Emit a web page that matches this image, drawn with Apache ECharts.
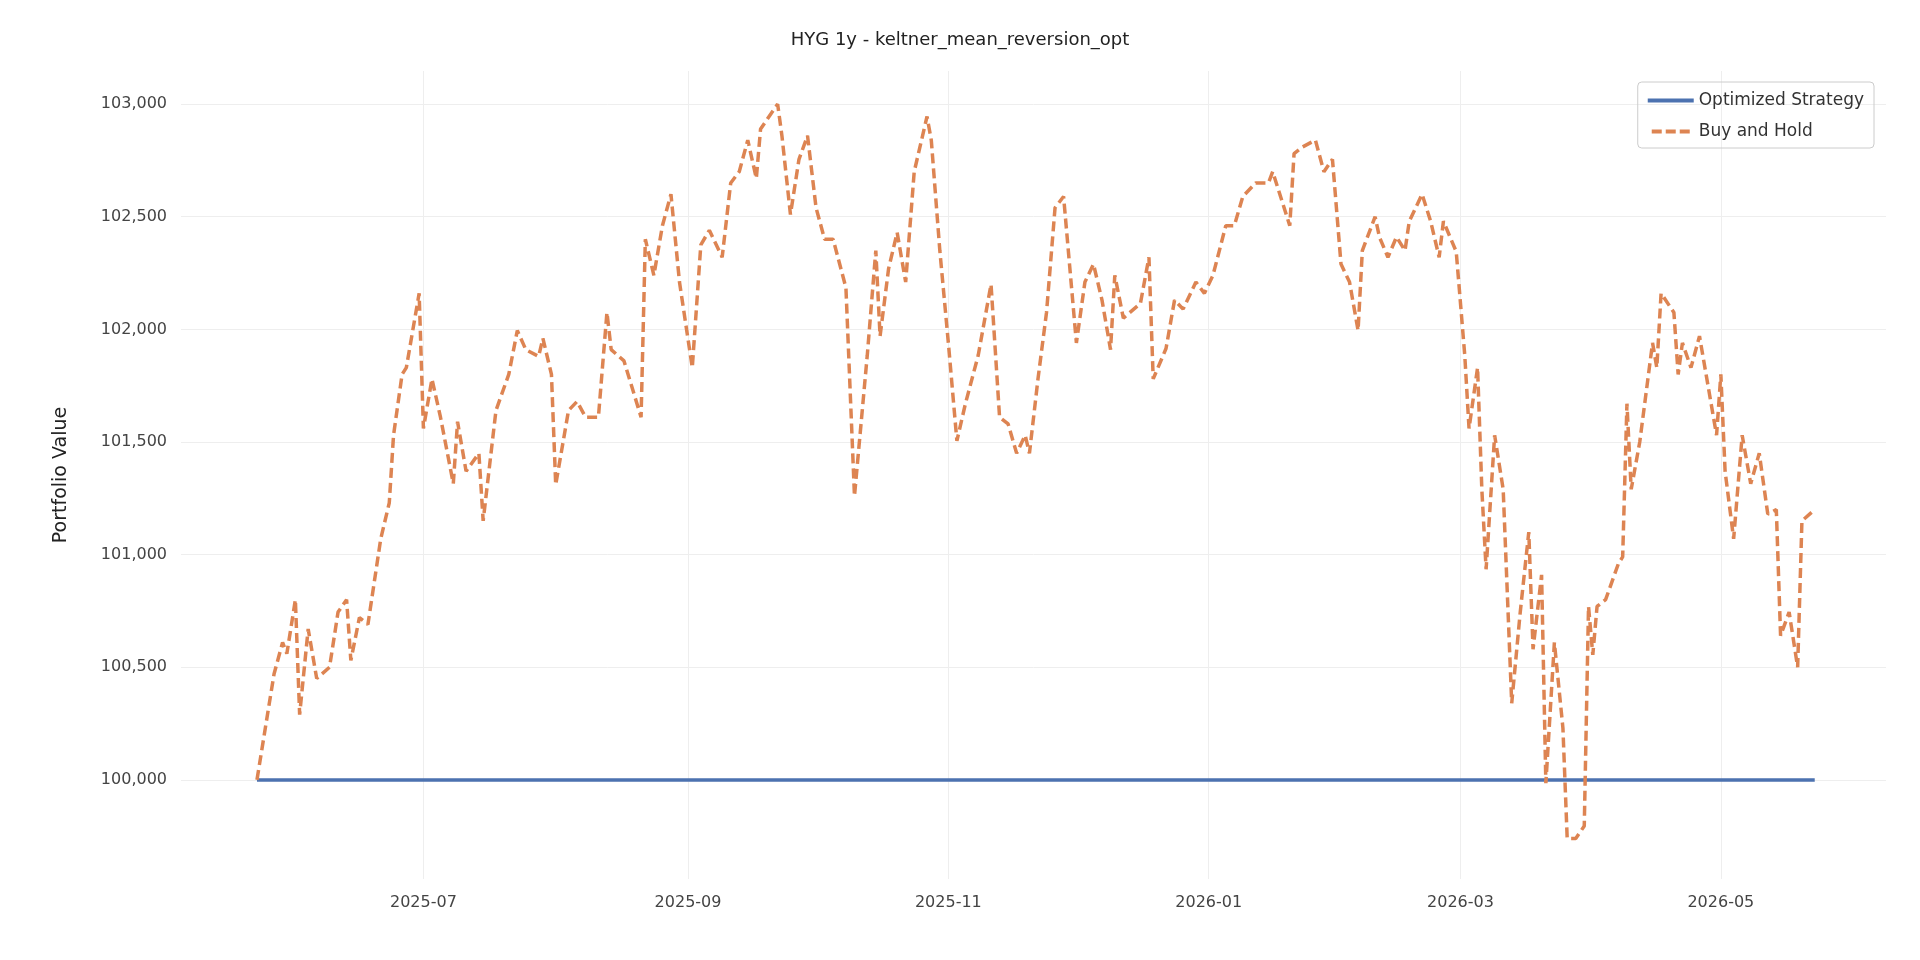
<!DOCTYPE html>
<html><head><meta charset="utf-8">
<script src="https://cdn.jsdelivr.net/npm/echarts@6/dist/echarts.min.js"></script>
<style>html,body{margin:0;padding:0;background:#fff}#c{width:1920px;height:960px}</style>
</head><body><div id="c"></div>
<script>
const startDate = '2025-05-23';
const dayOffsets = [0,4,6,7,9,10,12,14,17,19,21,22,24,26,29,31,32,34,35,38,39,41,43,46,47,49,52,53,56,59,61,63,66,67,69,70,73,75,77,80,82,83,86,90,91,93,95,97,99,102,104,106,109,111,113,115,117,118,122,123,125,127,129,131,133,135,138,140,143,145,146,148,150,152,154,157,158,160,162,164,166,169,172,174,176,178,180,181,183,185,187,189,192,194,196,198,200,201,203,207,209,210,213,215,217,220,222,224,227,229,231,234,237,238,242,243,245,248,250,252,254,256,258,259,262,263,265,267,269,270,273,275,277,278,281,283,284,286,287,288,290,292,294,296,298,299,301,302,304,306,307,309,311,312,313,314,316,319,320,321,322,324,327,328,329,332,333,334,336,338,340,342,343,344,346,348,350,352,354,356,357,359,361,362,365];
const buyHold = [100000,100470,100610,100560,100800,100290,100670,100450,100500,100745,100800,100530,100720,100690,101070,101230,101530,101800,101830,102160,101560,101780,101610,101315,101590,101370,101450,101150,101640,101800,101995,101910,101880,101960,101800,101310,101640,101680,101610,101610,102075,101910,101860,101610,102400,102240,102460,102600,102210,101830,102375,102440,102320,102650,102700,102840,102670,102890,103000,102860,102510,102755,102860,102540,102400,102400,102185,101260,101885,102350,101970,102270,102430,102210,102700,102945,102840,102350,101940,101505,101670,101885,102200,101610,101580,101450,101530,101450,101780,102075,102540,102590,101940,102210,102290,102130,101910,102240,102050,102115,102320,101780,101915,102130,102090,102210,102160,102240,102460,102460,102590,102650,102650,102700,102460,102780,102810,102840,102700,102755,102290,102210,101995,102350,102500,102410,102320,102410,102350,102480,102600,102480,102320,102480,102345,101885,101560,101830,101290,100935,101530,101290,100340,100745,101100,100580,100910,99985,100610,100230,99740,99740,99795,100770,100555,100770,100800,100960,100990,101670,101290,101500,101940,101830,102160,102075,101800,101940,101830,101970,101750,101530,101800,101370,101070,101530,101315,101450,101180,101200,100640,100745,100500,101150,101200];
const strategy = dayOffsets.map(() => 100000);
const yTicks = [100000,100500,101000,101500,102000,102500,103000];
const xTicks = ['2025-07-01','2025-09-01','2025-11-01','2026-01-01','2026-03-01','2026-05-01'];

const DAY = 86400000;
const t0 = new Date(startDate + 'T00:00:00Z').getTime();
const ts = dayOffsets.map(d => t0 + d * DAY);
const xTickTs = xTicks.map(s => new Date(s + 'T00:00:00Z').getTime());
function fmtMonth(v){const d=new Date(v);return d.getUTCFullYear()+'-'+String(d.getUTCMonth()+1).padStart(2,'0');}
const chart = echarts.init(document.getElementById('c'));
chart.setOption({
  animation:false,
  backgroundColor:'#fff',
  title:{text:'HYG 1y - keltner_mean_reversion_opt',left:'center',top:26,textStyle:{fontFamily:'DejaVu Sans',fontSize:18,fontWeight:'normal',color:'#222'}},
  legend:{right:46,top:82,orient:'vertical',itemWidth:46,itemHeight:4,itemGap:14,
    textStyle:{fontFamily:'DejaVu Sans',fontSize:17,color:'#333'},
    borderColor:'#ccc',borderWidth:1,borderRadius:4,padding:[10,10,8,10],
    data:[{name:'Optimized Strategy',icon:'rect'},{name:'Buy and Hold',icon:'path://M0,0 H10 V4 H0 Z M14,0 H24 V4 H14 Z M28,0 H38 V4 H28 Z'}]},
  grid:{left:181,right:34,top:71,bottom:81},
  xAxis:{type:'value',min:t0-17.8*DAY,max:t0+381.7*DAY,
    axisLine:{show:false},axisTick:{show:false,customValues:xTickTs},
    axisLabel:{customValues:xTickTs,formatter:fmtMonth,fontFamily:'DejaVu Sans',fontSize:16,color:'#444',margin:16},
    splitLine:{show:true,lineStyle:{color:'#eeeeee'}}},
  yAxis:{type:'value',min:99560,max:103147,name:'Portfolio Value',nameLocation:'middle',nameGap:110,
    nameTextStyle:{fontFamily:'DejaVu Sans',fontSize:19,color:'#222'},
    axisLine:{show:false},axisTick:{show:false,customValues:yTicks},
    axisLabel:{customValues:yTicks,fontFamily:'DejaVu Sans',fontSize:16,color:'#444',margin:14},
    splitLine:{show:true,lineStyle:{color:'#eeeeee'}}},
  series:[
    {name:'Optimized Strategy',type:'line',showSymbol:false,data:ts.map((t,i)=>[t,strategy[i]]),lineStyle:{color:'#4c72b0',width:3.5},itemStyle:{color:'#4c72b0'}},
    {name:'Buy and Hold',type:'line',showSymbol:false,data:ts.map((t,i)=>[t,buyHold[i]]),lineStyle:{color:'#dd8452',width:3.5,type:[10,5]},itemStyle:{color:'#dd8452'}}
  ]
});
</script></body></html>
